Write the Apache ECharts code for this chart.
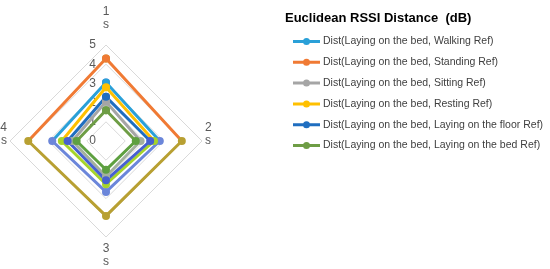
<!DOCTYPE html>
<html>
<head>
<meta charset="utf-8">
<script src="https://cdn.jsdelivr.net/npm/echarts@6/dist/echarts.min.js"></script>
<style>
  html, body { margin: 0; padding: 0; background: #fff; }
  #chart { width: 550px; height: 269px; }
</style>
</head>
<body>
<div id="chart"></div>
<script>
// spokes, in the order they are drawn (top, then counter-clockwise)
const spokes = ['1 s', '4 s', '3 s', '2 s']

// values per series, same order as spokes
const walking = [3.05, 2.8, 2.65, 2.8]
const standing = [4.3, 4.05, 3.9, 3.95]
const sitting = [2.05, 1.75, 1.85, 1.8]
const resting = [2.8, 2.3, 2.25, 2.5]
const layingFloor = [2.3, 2.0, 2.05, 2.3]
const layingBed = [1.6, 1.53, 1.5, 1.55]

const seriesNames = [
  'Dist(Laying on the bed, Walking Ref)',
  'Dist(Laying on the bed, Standing Ref)',
  'Dist(Laying on the bed, Sitting Ref)',
  'Dist(Laying on the bed, Resting Ref)',
  'Dist(Laying on the bed, Laying on the floor Ref)',
  'Dist(Laying on the bed, Laying on the bed Ref)',
]
const seriesValues = [walking, standing, sitting, resting, layingFloor, layingBed]
const colors = ['#2AA0D8', '#F07A34', '#A5A5A5', '#FFC000', '#1F6EC0', '#6E9D45']
// the lower half of the original picture shows the lines in shifted hues
const lowerColors = ['#6B86DA', '#B8A032', '#A3B09E', '#A6D42A', '#4660D0', '#5EA040']

// legend mark: short thick line with a dot in the middle
const legendIcon = 'path://M0,2.5h27v3h-27z M10,4a3.5,3.5 0 1,1 7,0a3.5,3.5 0 1,1 -7,0z'

const center = [106, 141]
const radius = 96

const chart = echarts.init(document.getElementById('chart'))

const nameFormatter = (name) => {
  const [num, unit] = name.split(' ')
  if (num === '3') return num + '\n' + unit
  return num + '\n' + unit + '\n '
}

const splitColor = (up, low) => ({
  type: 'linear',
  x: 0, y: 0, x2: 0, y2: 269,
  global: true,
  colorStops: [
    { offset: 0, color: up },
    { offset: center[1] / 269, color: up },
    { offset: center[1] / 269, color: low },
    { offset: 1, color: low },
  ],
})

chart.setOption({
  animation: false,
  color: colors,
  title: {
    text: 'Euclidean RSSI Distance  (dB)',
    left: 280,
    top: 7,
    textStyle: { fontFamily: 'Arial', fontSize: 13, fontWeight: 'bold', color: '#000' },
  },
  legend: {
    orient: 'vertical',
    left: 288,
    top: 31,
    icon: legendIcon,
    itemWidth: 27,
    itemHeight: 7,
    itemGap: 9.8,
    textStyle: { fontFamily: 'Arial', fontSize: 10.5, color: '#404040', padding: [0, 0, 0, -2] },
    data: seriesNames.map((n, i) => ({ name: n, itemStyle: { color: colors[i] } })),
  },
  radar: [
    {
      center: center,
      radius: radius,
      shape: 'polygon',
      startAngle: 90,
      splitNumber: 5,
      nameGap: 1,
      indicator: spokes.map((s, i) => ({
        name: s,
        min: 0,
        max: 5,
        axisLabel: i === 0 ? { show: true } : undefined,
      })),
      axisName: {
        color: '#595959',
        fontFamily: 'Arial',
        fontSize: 12,
        lineHeight: 13,
        padding: [4, 2, 0, 2],
        formatter: nameFormatter,
      },
      axisLabel: {
        show: false,
        color: '#595959',
        fontFamily: 'Arial',
        fontSize: 12,
        margin: 10,
      },
      axisLine: { show: false },
      axisTick: { show: false },
      splitLine: { lineStyle: { color: '#D9D9D9', width: 1 } },
      splitArea: { show: false },
    },
    {
      // same frame, top spoke only: carries the upper-colour markers
      center: center,
      radius: radius,
      startAngle: 90,
      splitNumber: 5,
      indicator: [{ name: spokes[0], min: 0, max: 5 }],
      axisName: { show: false },
      axisLabel: { show: false },
      axisLine: { show: false },
      axisTick: { show: false },
      splitLine: { show: false },
      splitArea: { show: false },
    },
  ],
  series: [
    {
      type: 'radar',
      radarIndex: 0,
      symbol: 'circle',
      symbolSize: 8,
      data: seriesNames.map((n, i) => ({
        name: n,
        value: seriesValues[i],
        lineStyle: { width: 3, color: splitColor(colors[i], lowerColors[i]) },
        itemStyle: { color: lowerColors[i] },
      })),
    },
    {
      type: 'radar',
      radarIndex: 1,
      symbol: 'circle',
      symbolSize: 8,
      data: seriesNames.map((n, i) => ({
        name: n,
        value: [seriesValues[i][0]],
        lineStyle: { width: 0, opacity: 0 },
        itemStyle: { color: colors[i] },
      })),
    },
  ],
})
</script>
</body>
</html>
